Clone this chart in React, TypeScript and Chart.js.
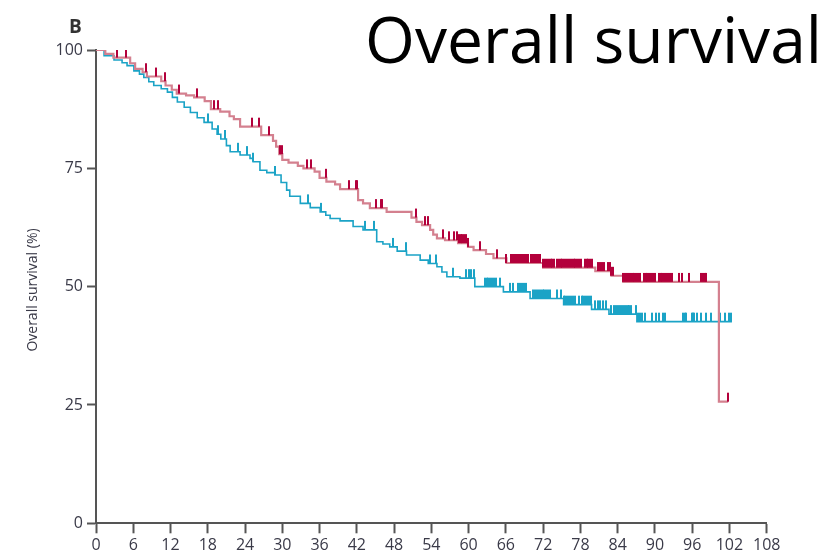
import React, { useEffect, useRef } from 'react';
import { Chart, registerables } from 'chart.js';
Chart.register(...registerables);

const xTicks = [0, 6, 12, 18, 24, 30, 36, 42, 48, 54, 60, 66, 72, 78, 84, 90, 96, 102, 108];
const yTicks = [0, 25, 50, 75, 100];

const redTimes = [0, 1.5, 2.8, 5.5, 6.3, 7.5, 8.2, 10.5, 11.2, 12.2, 13.0, 14.5, 15.8, 17.5, 18.5, 20.0, 21.5, 22.2, 23.2, 26.6, 28.5, 29.0, 29.5, 30.0, 31.0, 32.5, 33.4, 35.2, 36.0, 37.1, 38.5, 39.3, 42.2, 43.0, 44.1, 46.8, 50.8, 51.6, 52.5, 53.8, 54.3, 54.9, 56.2, 58.3, 59.9, 60.8, 62.8, 64.0, 66.1, 72.0, 80.4, 83.0, 84.9, 100.3, 101.8];
const redSurv = [100, 99.2, 98.4, 97.2, 96.0, 95.3, 94.4, 93.4, 92.5, 91.6, 90.8, 90.4, 90.0, 89.2, 87.5, 87.0, 86.0, 85.4, 83.8, 82.0, 80.8, 79.6, 78.0, 76.8, 76.2, 75.5, 75.0, 74.3, 73.0, 72.2, 71.6, 70.6, 68.3, 67.6, 66.6, 65.8, 64.6, 63.7, 63.0, 62.0, 61.0, 60.2, 59.8, 59.2, 58.4, 57.7, 56.9, 56.0, 55.0, 54.0, 53.3, 52.3, 51.0, 25.7, 25.7];

const blueTimes = [0, 1.3, 2.9, 4.2, 5.0, 6.1, 7.0, 7.7, 8.5, 9.3, 10.5, 11.5, 12.3, 13.1, 14.2, 15.2, 16.3, 17.4, 18.7, 19.5, 20.1, 21.0, 21.6, 23.2, 24.8, 25.3, 26.4, 27.5, 28.8, 29.8, 30.7, 31.2, 32.9, 34.5, 36.1, 37.0, 37.7, 39.3, 41.4, 43.0, 45.2, 46.2, 47.3, 48.5, 50.0, 52.2, 53.5, 54.9, 55.7, 56.5, 58.6, 61.0, 65.6, 69.9, 75.3, 79.8, 82.6, 87.1, 102.4];
const blueSurv = [100, 98.8, 97.9, 97.3, 96.7, 95.6, 94.9, 94.2, 93.3, 92.5, 91.8, 91.1, 90.0, 89.0, 87.9, 86.8, 85.7, 84.7, 83.3, 82.2, 81.2, 79.8, 78.5, 77.8, 77.1, 76.4, 74.6, 74.1, 73.6, 72.0, 70.4, 69.1, 67.6, 66.7, 65.8, 65.1, 64.4, 63.9, 62.7, 62.0, 59.5, 59.0, 58.4, 57.5, 56.7, 55.6, 54.9, 54.2, 53.1, 52.1, 51.8, 50.0, 48.9, 47.5, 46.2, 45.2, 44.2, 42.6, 42.6];

const redCensor = [3.4, 4.8, 8.0, 9.6, 11.1, 13.4, 16.2, 19.0, 19.7, 25.1, 26.3, 27.9, 29.6, 29.9, 33.9, 34.6, 37.0, 40.8, 41.9, 42.1, 45.1, 45.9, 46.1, 51.5, 53.0, 53.5, 55.9, 56.9, 57.6,
  58.1, 58.4, 58.7, 59.0, 59.3, 59.6, 59.9, 61.8, 64.5, 66.1,
  66.9, 67.2, 67.5, 67.8, 68.1, 68.4, 68.7, 69.0, 69.3, 69.6,
  70.0, 70.3, 70.6, 70.9, 71.2, 71.5,
  72.0, 72.3, 72.6, 72.9, 73.2, 73.5, 73.8,
  74.2, 74.5, 74.8, 75.1, 75.4, 75.7, 76.0, 76.3, 76.6, 76.9, 77.2, 77.5, 77.8, 78.1,
  78.7, 79.0, 79.3, 79.6, 79.9,
  80.9, 81.2, 81.5, 81.8, 82.4, 82.7, 83.0, 83.3,
  84.9, 85.2, 85.5, 85.8, 86.1, 86.4, 86.7, 87.0, 87.3, 87.6, 88.2, 88.5, 88.8, 89.1, 89.4, 89.7, 90.0, 90.6, 90.9, 91.2, 91.5, 91.8, 92.1, 92.4, 92.7,
  93.9, 94.4, 95.5, 97.5, 97.8, 98.1, 98.3, 101.8];

const blueCensor = [18.1, 19.7, 20.8, 22.9, 24.3, 25.3, 28.8, 34.1, 36.3, 43.3, 44.8, 47.9, 49.9, 53.8, 54.8, 57.5, 59.6, 60.0, 60.4, 60.8,
  62.6, 62.9, 63.2, 63.5, 63.8, 64.1, 64.4, 65.0, 66.7, 67.2,
  68.0, 68.3, 68.6, 68.9, 69.2,
  70.4, 70.7, 71.0, 71.3, 71.6, 71.9, 72.2, 72.5, 72.8, 73.1, 74.2, 74.9,
  75.3, 75.6, 75.9, 76.2, 76.5, 76.8, 77.1, 77.8,
  78.2, 78.5, 78.8, 79.1, 79.4, 79.7,
  80.4, 80.9, 81.2, 81.7, 82.2, 83.0, 83.4, 83.8, 84.1, 84.4, 84.7, 85.0, 85.3, 85.6, 85.9, 86.2,
  87.0, 87.3, 87.6, 87.9,
  88.4, 89.5, 90.1, 90.7, 91.3, 91.7, 94.6, 94.8, 95.0, 95.9, 96.1, 96.3, 96.8, 97.5, 98.2, 99.1, 100.5, 101.3, 101.9, 102.2];

const RED_LINE = '#d4808f';
const RED_MARK = '#b3003b';
const BLUE = '#1ba3c6';
const AXIS = '#555555';
const TEXT = '#3a3a48';

function survivalAt(times: number[], surv: number[], t: number) {
  let s = surv[0];
  for (let i = 0; i < times.length; i++) {
    if (times[i] <= t + 1e-9) s = surv[i];
  }
  return s;
}

function makeTick(color: string) {
  const c = document.createElement('canvas');
  c.width = 2;
  c.height = 20;
  const ctx = c.getContext('2d')!;
  ctx.fillStyle = color;
  ctx.fillRect(0, 1, 2, 9);
  return c;
}

const textPlugin = {
  id: 'texts',
  afterDraw(chart: any) {
    const ctx = chart.ctx;
    ctx.save();
    ctx.fillStyle = '#000';
    ctx.font = '62px "Open Sans"';
    ctx.textBaseline = 'alphabetic';
    const title = 'Overall survival';
    const w = ctx.measureText(title).width;
    const size = 62 * 457 / w;
    ctx.font = `${size}px "Open Sans"`;
    ctx.fillText(title, 365, 63);

    ctx.fillStyle = '#333';
    ctx.font = 'bold 19px "Open Sans"';
    ctx.fillText('B', 69, 33);

    ctx.translate(37, 290);
    ctx.rotate(-Math.PI / 2);
    ctx.font = '14px "Open Sans"';
    ctx.textAlign = 'center';
    ctx.fillStyle = TEXT;
    ctx.fillText('Overall survival (%)', 0, 0);
    ctx.restore();
  },
};

export default function App() {
  const ref = useRef<HTMLCanvasElement>(null);
  useEffect(() => {
    document.body.style.margin = '0';
    const redTick = makeTick(RED_MARK);
    const blueTick = makeTick(BLUE);
    const redLine = redTimes.map((t, i) => ({ x: t, y: redSurv[i] }));
    const blueLine = blueTimes.map((t, i) => ({ x: t, y: blueSurv[i] }));
    const redMarks = redCensor.map((t) => ({ x: t, y: survivalAt(redTimes, redSurv, t) }));
    const blueMarks = blueCensor.map((t) => ({ x: t, y: survivalAt(blueTimes, blueSurv, t) }));

    const chart = new Chart(ref.current!, {
      type: 'scatter',
      data: {
        datasets: [
          { data: blueLine, showLine: true, stepped: 'before', borderColor: BLUE, borderWidth: 1.6, pointRadius: 0, fill: false, order: 4 },
          { data: blueMarks, showLine: false, pointStyle: blueTick as any, pointRadius: 3, order: 3 },
          { data: redLine, showLine: true, stepped: 'before', borderColor: RED_LINE, borderWidth: 2.2, pointRadius: 0, fill: false, order: 2 },
          { data: redMarks, showLine: false, pointStyle: redTick as any, pointRadius: 3, order: 1 },
        ] as any,
      },
      options: {
        animation: false,
        responsive: false,
        devicePixelRatio: 1,
        layout: { padding: { top: 50, left: 0, right: 72.3, bottom: 0 } },
        plugins: { legend: { display: false }, tooltip: { enabled: false }, title: { display: false } },
        events: [],
        scales: {
          x: {
            type: 'linear',
            min: 0,
            max: 108,
            afterBuildTicks: (scale: any) => { scale.ticks = xTicks.map((v) => ({ value: v })); },
            afterFit: (scale: any) => { scale.height = 34.7; },
            grid: { drawOnChartArea: false, drawTicks: true, tickLength: 10, tickColor: AXIS, tickWidth: 2 },
            border: { color: AXIS, width: 2 },
            ticks: { color: TEXT, font: { family: '"Open Sans"', size: 16 }, padding: 3, maxRotation: 0, autoSkip: false },
          },
          y: {
            type: 'linear',
            min: 0,
            max: 100,
            afterBuildTicks: (scale: any) => { scale.ticks = yTicks.map((v) => ({ value: v })); },
            afterFit: (scale: any) => { scale.width = 96; },
            grid: { drawOnChartArea: false, drawTicks: true, tickLength: 9, tickColor: AXIS, tickWidth: 2 },
            border: { color: AXIS, width: 2 },
            ticks: { color: TEXT, font: { family: '"Open Sans"', size: 16 }, padding: 4 },
          },
        },
      } as any,
      plugins: [textPlugin],
    });
    return () => chart.destroy();
  }, []);
  return (
    <div style={{ position: 'absolute', left: 0, top: 0, width: 839, height: 558, background: '#fff' }}>
      <canvas ref={ref} width={839} height={558} style={{ display: 'block', width: 839, height: 558 }} />
    </div>
  );
}
